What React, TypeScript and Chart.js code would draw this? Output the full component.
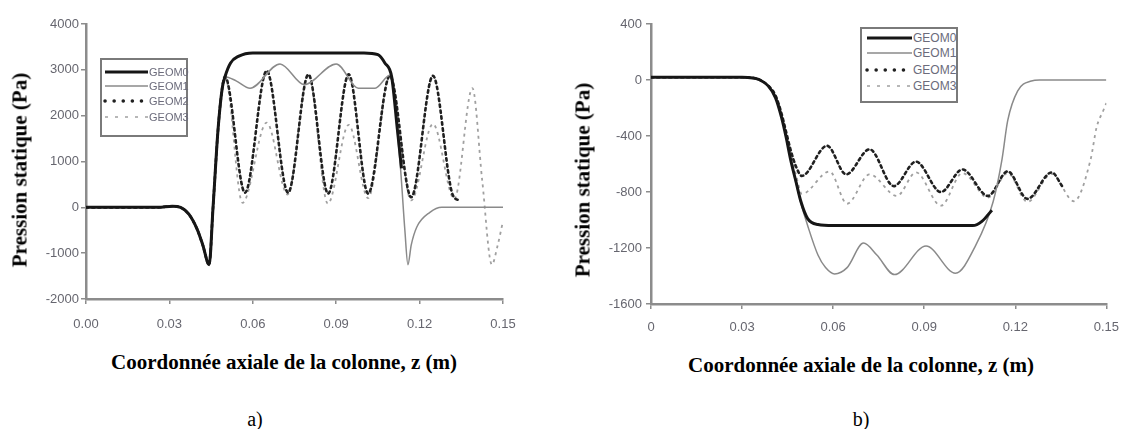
import React, { useEffect, useRef } from "react";
import { Chart, registerables } from "chart.js";

Chart.register(...registerables);

type P = [number, number];

const seriesNames = ["GEOM0", "GEOM1", "GEOM2", "GEOM3"];
const xTickValues = [0, 0.03, 0.06, 0.09, 0.12, 0.15];
const aXTickLabels = ["0.00", "0.03", "0.06", "0.09", "0.12", "0.15"];
const bXTickLabels = ["0", "0.03", "0.06", "0.09", "0.12", "0.15"];
const aYTickValues = [-2000, -1000, 0, 1000, 2000, 3000, 4000];
const bYTickValues = [-1600, -1200, -800, -400, 0, 400];
const xTitle = "Coordonnée axiale de la colonne, z (m)";
const yTitle = "Pression statique (Pa)";

// Panel a) — static pressure along the column
const aGeom0: P[] = [
  [0, 0], [0.026, 0], [0.031, 25], [0.034, 0], [0.037, -150], [0.04, -480], [0.042, -820],
  [0.0443, -1250], [0.0457, 0], [0.0475, 1700], [0.049, 2600], [0.05, 2850], [0.052, 3150],
  [0.055, 3300], [0.06, 3370], [0.1, 3370], [0.105, 3330], [0.1075, 3150], [0.11, 2830],
  [0.112, 1700], [0.1135, 850],
];
const aGeom1: P[] = [
  [0, 0], [0.026, 0], [0.031, 25], [0.034, 0], [0.037, -150], [0.04, -480], [0.042, -820],
  [0.0443, -1250], [0.0457, 0], [0.0475, 1700], [0.049, 2600], [0.05, 2850], [0.054, 2760],
  [0.059, 2600], [0.0698, 3130], [0.0785, 2680], [0.09, 3130], [0.098, 2600], [0.104, 2600],
  [0.1093, 2880], [0.113, 950], [0.1147, -500], [0.1158, -1250], [0.117, -820], [0.119, -430],
  [0.1237, -110], [0.128, 0], [0.15, 0],
];
const aGeom2: P[] = [
  [0, 0], [0.026, 0], [0.031, 25], [0.034, 0], [0.037, -150], [0.04, -480], [0.042, -820],
  [0.0443, -1250], [0.0457, 0], [0.0475, 1700], [0.049, 2600], [0.05, 2850], [0.0572, 320],
  [0.065, 2980], [0.0727, 320], [0.08, 2900], [0.0871, 300], [0.0945, 2900], [0.1015, 300],
  [0.1093, 2870], [0.117, 220], [0.1248, 2870], [0.132, 260], [0.1345, 150],
];
const aGeom3: P[] = [
  [0, 0], [0.026, 0], [0.031, 25], [0.034, 0], [0.037, -150], [0.04, -480], [0.042, -820],
  [0.0443, -1250], [0.0457, 0], [0.0475, 1700], [0.049, 2600], [0.05, 2850], [0.0563, 100],
  [0.065, 1850], [0.0725, 280], [0.08, 2900], [0.087, 80], [0.0945, 1800], [0.1015, 200],
  [0.1093, 2850], [0.117, 150], [0.1248, 1820], [0.1325, 180], [0.139, 2600], [0.1425, 600],
  [0.146, -1250], [0.148, -850], [0.15, -300],
];

// Panel b)
const bGeom0: P[] = [
  [0, 20], [0.03, 20], [0.0335, 15], [0.0354, 5], [0.0386, -42], [0.041, -126], [0.043, -267],
  [0.0445, -407], [0.046, -569], [0.0478, -730], [0.0494, -870], [0.0516, -990], [0.055, -1032],
  [0.06, -1040], [0.1, -1040], [0.106, -1040], [0.109, -1010], [0.1123, -930],
];
const bGeom1: P[] = [
  [0, 20], [0.03, 20], [0.0335, 15], [0.0354, 5], [0.0386, -42], [0.041, -126], [0.043, -267],
  [0.0445, -407], [0.046, -569], [0.0478, -740], [0.0494, -880], [0.0516, -1040], [0.055, -1250],
  [0.0575, -1340], [0.0605, -1385], [0.0646, -1340], [0.07, -1165], [0.0744, -1250],
  [0.0802, -1390], [0.0906, -1186], [0.1003, -1380], [0.107, -1180], [0.1127, -870],
  [0.1156, -570], [0.1175, -290], [0.1208, -77], [0.1253, -7], [0.128, 0], [0.15, 0],
];
const bGeom2: P[] = [
  [0, 20], [0.03, 20], [0.0335, 15], [0.0354, 5], [0.0386, -40], [0.041, -110], [0.043, -240],
  [0.0445, -370], [0.046, -500], [0.0478, -620], [0.0497, -685], [0.058, -470], [0.0643, -674],
  [0.072, -495], [0.08, -758], [0.0873, -583], [0.0955, -800], [0.1026, -639], [0.111, -828],
  [0.1175, -653], [0.124, -849], [0.132, -660], [0.1355, -760],
];
const bGeom3: P[] = [
  [0, 20], [0.03, 20], [0.0335, 15], [0.0354, 5], [0.0386, -40], [0.041, -115], [0.043, -250],
  [0.0445, -380], [0.046, -520], [0.0478, -680], [0.0497, -814], [0.0588, -653], [0.0646, -884],
  [0.072, -674], [0.081, -828], [0.0873, -660], [0.0955, -898], [0.1026, -665], [0.111, -840],
  [0.1175, -665], [0.124, -870], [0.132, -670], [0.1393, -866], [0.1448, -569], [0.1468, -337],
  [0.149, -218], [0.15, -165],
];

const lineStyles = [
  { color: "#161616", width: 3, dash: [] as number[], legendDash: "" },
  { color: "#8a8a8a", width: 1.5, dash: [] as number[], legendDash: "" },
  { color: "#202020", width: 2.6, dash: [2.5, 3.5], legendDash: "0.1 9" },
  { color: "#a0a0a0", width: 1.8, dash: [3, 4], legendDash: "3 7" },
];

const axisColor = "#8c8c8c";
const tickFont = { family: "'Liberation Sans', Arial, sans-serif", size: 13 };
const tickColor = "#66666f";

interface PanelProps {
  left: number;
  width: number;
  height: number;
  area: { left: number; top: number; right: number; bottom: number };
  series: P[][];
  yTicks: number[];
  xLabels: string[];
  xPad: number;
  yPad: number;
}

function Panel(p: PanelProps) {
  const ref = useRef<HTMLCanvasElement>(null);
  useEffect(() => {
    const c = ref.current;
    if (!c) return;
    const chart = new Chart(c, {
      type: "line",
      data: {
        datasets: p.series.map((pts, i) => ({
          label: seriesNames[i],
          data: pts.map(([x, y]) => ({ x, y })),
          borderColor: lineStyles[i].color,
          borderWidth: lineStyles[i].width,
          borderDash: lineStyles[i].dash,
          borderCapStyle: i === 2 ? ("round" as const) : ("butt" as const),
          pointRadius: 0,
          fill: false,
          cubicInterpolationMode: "monotone" as const,
        })),
      },
      options: {
        responsive: false,
        animation: false,
        devicePixelRatio: 1,
        layout: { padding: { left: 0, top: p.area.top, right: p.width - p.area.right, bottom: 0 } },
        plugins: { legend: { display: false }, tooltip: { enabled: false }, title: { display: false } },
        scales: {
          x: {
            type: "linear",
            min: 0,
            max: 0.15,
            afterBuildTicks: (s: any) => {
              s.ticks = xTickValues.map((v) => ({ value: v }));
            },
            afterFit: (s: any) => {
              s.height = p.height - p.area.bottom;
            },
            ticks: {
              callback: (_v: any, i: number) => p.xLabels[i],
              font: tickFont,
              color: tickColor,
              padding: p.xPad,
              maxRotation: 0,
              minRotation: 0,
              autoSkip: false,
            },
            grid: { drawOnChartArea: false, drawTicks: true, tickLength: 5, color: axisColor, lineWidth: 1.5 },
            border: { display: true, color: axisColor, width: 2.5 },
          },
          y: {
            type: "linear",
            min: p.yTicks[0],
            max: p.yTicks[p.yTicks.length - 1],
            afterBuildTicks: (s: any) => {
              s.ticks = p.yTicks.map((v) => ({ value: v }));
            },
            afterFit: (s: any) => {
              s.width = p.area.left;
            },
            ticks: {
              callback: (v: any) => String(v),
              font: tickFont,
              color: tickColor,
              padding: p.yPad,
              autoSkip: false,
            },
            grid: { drawOnChartArea: false, drawTicks: true, tickLength: 5, color: axisColor, lineWidth: 1.5 },
            border: { display: true, color: axisColor, width: 2.5 },
          },
        },
      },
    } as any);
    return () => chart.destroy();
  }, []);
  return (
    <canvas
      ref={ref}
      width={p.width}
      height={p.height}
      style={{ position: "absolute", left: p.left, top: 0, width: p.width, height: p.height }}
    />
  );
}

interface LegendProps {
  left: number;
  top: number;
  width: number;
  height: number;
  rows: number[];
  x0: number;
  x1: number;
  fontSize: number;
}

function Legend(l: LegendProps) {
  return (
    <svg
      width={l.width}
      height={l.height}
      style={{ position: "absolute", left: l.left, top: l.top, overflow: "visible" }}
    >
      <rect x={1} y={1} width={l.width - 2} height={l.height - 2} fill="#fff" stroke="#7a7a7a" strokeWidth={2} />
      {seriesNames.map((name, i) => (
        <g key={name}>
          <line
            x1={l.x0}
            x2={l.x1}
            y1={l.rows[i]}
            y2={l.rows[i]}
            stroke={lineStyles[i].color}
            strokeWidth={i === 2 ? 3.5 : i === 0 ? 3 : 1.6}
            strokeDasharray={lineStyles[i].legendDash || undefined}
            strokeLinecap={i === 2 ? "round" : "butt"}
          />
          <text
            x={l.x1 + 1}
            y={l.rows[i]}
            dominantBaseline="central"
            fontFamily="'Liberation Sans', Arial, sans-serif"
            fontSize={l.fontSize}
            fill="#6b6b7b"
          >
            {name}
          </text>
        </g>
      ))}
    </svg>
  );
}

const titleStyle: React.CSSProperties = {
  position: "absolute",
  fontFamily: "'Liberation Serif', 'Times New Roman', serif",
  fontWeight: "bold",
  fontSize: 21,
  lineHeight: 1,
  whiteSpace: "nowrap",
  color: "#000",
};

function Text(props: { x: number; y: number; rotate?: boolean; style?: React.CSSProperties; children: string }) {
  return (
    <div
      style={{
        ...titleStyle,
        ...props.style,
        left: props.x,
        top: props.y,
        transform: `translate(-50%, -50%)${props.rotate ? " rotate(-90deg)" : ""}`,
      }}
    >
      {props.children}
    </div>
  );
}

export default function App() {
  const captionStyle: React.CSSProperties = { fontWeight: "normal", fontSize: 20 };
  return (
    <div style={{ position: "fixed", left: 0, top: 0, width: 1130, height: 429, background: "#fff", overflow: "hidden" }}>
      <Panel
        left={0}
        width={530}
        height={335}
        area={{ left: 86, top: 24, right: 503, bottom: 299 }}
        series={[aGeom0, aGeom1, aGeom2, aGeom3]}
        yTicks={aYTickValues}
        xLabels={aXTickLabels}
        xPad={13}
        yPad={2}
      />
      <Panel
        left={560}
        width={570}
        height={340}
        area={{ left: 91, top: 24, right: 553, bottom: 304 }}
        series={[bGeom0, bGeom1, bGeom2, bGeom3]}
        yTicks={bYTickValues}
        xLabels={bXTickLabels}
        xPad={11}
        yPad={4}
      />
      <Legend left={100} top={58} width={88} height={79} rows={[14, 28, 43, 59]} x0={5} x1={48} fontSize={11} />
      <Legend left={860} top={27} width={98} height={76} rows={[11, 26, 43, 59]} x0={7} x1={52} fontSize={12} />
      <Text x={20} y={170} rotate>{yTitle}</Text>
      <Text x={583} y={180} rotate>{yTitle}</Text>
      <Text x={284} y={362}>{xTitle}</Text>
      <Text x={861} y={365}>{xTitle}</Text>
      <Text x={255} y={419} style={captionStyle}>a)</Text>
      <Text x={861} y={419} style={captionStyle}>b)</Text>
    </div>
  );
}
